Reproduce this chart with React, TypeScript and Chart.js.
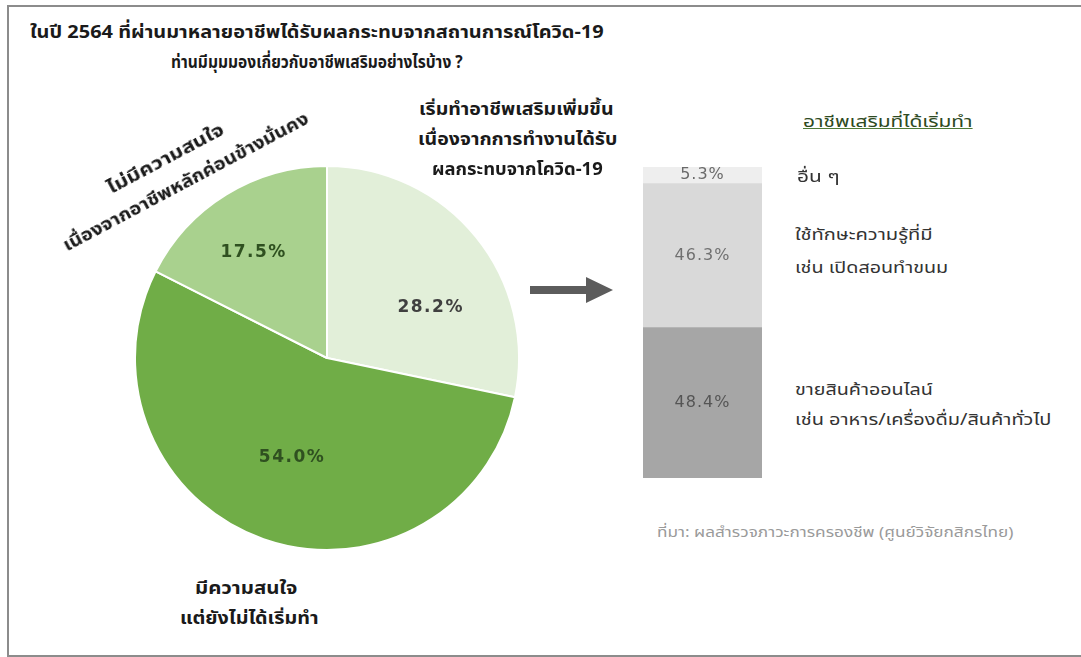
import React, { useEffect, useLayoutEffect, useRef } from "react";
import { Chart, registerables } from "chart.js";

Chart.register(...registerables);

const titleLines = [
  "ในปี 2564 ที่ผ่านมาหลายอาชีพได้รับผลกระทบจากสถานการณ์โควิด-19",
  "ท่านมีมุมมองเกี่ยวกับอาชีพเสริมอย่างไรบ้าง ?",
];

const pieLabels = [
  ["เริ่มทำอาชีพเสริมเพิ่มขึ้น", "เนื่องจากการทำงานได้รับ", "ผลกระทบจากโควิด-19"],
  ["มีความสนใจ", "แต่ยังไม่ได้เริ่มทำ"],
  ["ไม่มีความสนใจ", "เนื่องจากอาชีพหลักค่อนข้างมั่นคง"],
];
const pieValues = [28.2, 54.0, 17.5];
const pieColors = ["#e2efd9", "#70ad47", "#a9d18e"];
const pieTextColors = ["#404040", "#2f5020", "#2f5020"];

const barTitle = "อาชีพเสริมที่ได้เริ่มทำ";
const barLabels = [
  ["ขายสินค้าออนไลน์", "เช่น อาหาร/เครื่องดื่ม/สินค้าทั่วไป"],
  ["ใช้ทักษะความรู้ที่มี", "เช่น เปิดสอนทำขนม"],
  ["อื่น ๆ"],
];
const barValues = [48.4, 46.3, 5.3];
const barColors = ["#a6a6a6", "#d9d9d9", "#eeeeee"];
const barTextColors = ["#555555", "#707070", "#6a6a6a"];

const sourceText = "ที่มา: ผลสำรวจภาวะการครองชีพ (ศูนย์วิจัยกสิกรไทย)";

const FONT = 'Tahoma, "Noto Sans Thai", "Noto Sans", "DejaVu Sans", sans-serif';

// layout (not data): label placement inside slices [fraction of angle, fraction of radius]
const pieLabelPlace = [
  [0.63, 0.6],
  [0.5, 0.55],
  [0.45, 0.67],
];

const pieLabelPlugin = {
  id: "pieLabels",
  afterDatasetsDraw(chart: any) {
    const ctx = chart.ctx;
    const meta = chart.getDatasetMeta(0);
    ctx.save();
    ctx.font = `bold 17px "DejaVu Sans", sans-serif`;
    ctx.textAlign = "center";
    ctx.textBaseline = "middle";
    try { (ctx as any).letterSpacing = "1.5px"; } catch (e) {}
    meta.data.forEach((arc: any, i: number) => {
      const p = arc.getProps(["x", "y", "startAngle", "endAngle", "outerRadius"], true);
      const [fa, fr] = pieLabelPlace[i];
      const a = p.startAngle + fa * (p.endAngle - p.startAngle);
      const r = p.outerRadius * fr;
      ctx.fillStyle = pieTextColors[i];
      ctx.fillText(pieValues[i].toFixed(1) + "%", p.x + Math.cos(a) * r, p.y + Math.sin(a) * r);
    });
    ctx.restore();
  },
};

const barLabelPlugin = {
  id: "barLabels",
  afterDatasetsDraw(chart: any) {
    const ctx = chart.ctx;
    ctx.save();
    ctx.font = `16px "DejaVu Sans", sans-serif`;
    ctx.textAlign = "center";
    ctx.textBaseline = "middle";
    try { (ctx as any).letterSpacing = "1px"; } catch (e) {}
    chart.data.datasets.forEach((ds: any, i: number) => {
      const el = chart.getDatasetMeta(i).data[0];
      const p = el.getProps(["x", "y", "base"], true);
      ctx.fillStyle = barTextColors[i];
      ctx.fillText(ds.data[0].toFixed(1) + "%", p.x, (p.y + p.base) / 2);
    });
    ctx.restore();
  },
};

function PieChart() {
  const ref = useRef<HTMLCanvasElement>(null);
  useEffect(() => {
    const chart = new Chart(ref.current!, {
      type: "pie",
      data: {
        labels: pieLabels.map((l) => l.join(" ")),
        datasets: [
          {
            data: pieValues,
            backgroundColor: pieColors,
            borderColor: "#ffffff",
            borderWidth: 2,
            hoverOffset: 0,
            radius: 192,
          } as any,
        ],
      },
      options: {
        responsive: false,
        animation: false,
        events: [],
        layout: { padding: 0 },
        plugins: { legend: { display: false }, tooltip: { enabled: false } },
      },
      plugins: [pieLabelPlugin],
    });
    return () => chart.destroy();
  }, []);
  return (
    <canvas
      ref={ref}
      width={386}
      height={386}
      style={{ position: "absolute", left: 134, top: 165, width: 386, height: 386 }}
    />
  );
}

function BarChart() {
  const ref = useRef<HTMLCanvasElement>(null);
  useEffect(() => {
    const chart = new Chart(ref.current!, {
      type: "bar",
      data: {
        labels: [barTitle],
        datasets: barValues.map((v, i) => ({
          label: barLabels[i].join(" "),
          data: [v],
          backgroundColor: barColors[i],
          borderWidth: 0,
          barPercentage: 1,
          categoryPercentage: 1,
        })),
      },
      options: {
        responsive: false,
        animation: false,
        events: [],
        layout: { padding: 0 },
        scales: {
          x: { stacked: true, display: false },
          y: { stacked: true, display: false, min: 0, max: 100 },
        },
        plugins: { legend: { display: false }, tooltip: { enabled: false } },
      },
      plugins: [barLabelPlugin],
    });
    return () => chart.destroy();
  }, []);
  return (
    <canvas
      ref={ref}
      width={119}
      height={311}
      style={{ position: "absolute", left: 643, top: 167, width: 119, height: 311 }}
    />
  );
}

type FitProps = {
  x: number;
  cy: number;
  w: number;
  align?: "left" | "center";
  lh?: number;
  style?: React.CSSProperties;
  children: React.ReactNode;
};

function FitText({ x, cy, w, align = "left", lh = 30, style, children }: FitProps) {
  const ref = useRef<HTMLDivElement>(null);
  useLayoutEffect(() => {
    const el = ref.current!;
    el.style.transform = "none";
    const nat = el.offsetWidth || 1;
    el.style.transform = `scaleX(${w / nat})`;
  });
  const left = align === "center" ? x - w / 2 : x;
  return (
    <div
      ref={ref}
      style={{
        position: "absolute",
        left,
        top: cy - lh / 2,
        height: lh,
        lineHeight: lh + "px",
        whiteSpace: "nowrap",
        transformOrigin: "left center",
        ...style,
      }}
    >
      {children}
    </div>
  );
}

const bold: React.CSSProperties = { fontWeight: "bold", color: "#1a1a1a", fontSize: 17 };
const plain: React.CSSProperties = { fontSize: 16, color: "#333333" };

// layout of text lines: [x, centreY, width]
const barLabelLayout = [
  [[795, 390, 138], [795, 420, 257]],
  [[795, 235, 138], [795, 268, 153]],
  [[797, 177, 43]],
];
const pieLabelLayout = [
  [[516, 110, 195], [517, 140, 199], [517, 170, 171]],
  [[246, 589, 102], [249, 619, 138]],
  [[-3.5, -15, 129], [3.5, 15, 275]],
];

export default function App() {
  return (
    <div
      style={{
        position: "absolute",
        left: 0,
        top: 0,
        width: 1081,
        height: 657,
        background: "#ffffff",
        overflow: "hidden",
        fontFamily: FONT,
      }}
    >
      <div
        style={{
          position: "absolute",
          left: 7,
          top: 5,
          width: 1100,
          height: 648,
          borderLeft: "2px solid #8c8c8c",
          borderTop: "2px solid #8c8c8c",
          borderBottom: "2px solid #8c8c8c",
        }}
      />
      <FitText x={30} cy={33} w={574} style={{ ...bold, fontSize: 18 }}>
        {titleLines[0]}
      </FitText>
      <FitText x={317} cy={63} w={292} align="center" style={{ ...bold, fontSize: 17 }}>
        {titleLines[1]}
      </FitText>

      <PieChart />
      <BarChart />

      {/* pie labels */}
      {[0, 1].map((k) =>
        pieLabels[k].map((line, j) => {
          const [x, cy, w] = pieLabelLayout[k][j];
          return (
            <FitText key={k + "-" + j} x={x} cy={cy} w={w} align="center" style={bold}>
              {line}
            </FitText>
          );
        })
      )}
      <div
        style={{
          position: "absolute",
          left: 176,
          top: 170.5,
          width: 0,
          height: 0,
          transformOrigin: "0 0",
          transform: "rotate(-28deg)",
        }}
      >
        {pieLabels[2].map((line, j) => {
          const [x, cy, w] = pieLabelLayout[2][j];
          return (
            <FitText key={j} x={x} cy={cy} w={w} align="center" style={bold}>
              {line}
            </FitText>
          );
        })}
      </div>

      {/* arrow */}
      <svg style={{ position: "absolute", left: 528, top: 274 }} width={90} height={32}>
        <polygon points="2,12 58,12 58,3 85,16 58,29 58,20 2,20" fill="#5c5c5c" />
      </svg>

      {/* bar side labels */}
      <FitText
        x={803}
        cy={122}
        w={170}
        style={{
          ...plain,
          color: "#2e4a22",
          textDecoration: "underline",
          textDecorationColor: "#4f7a38",
        }}
      >
        {barTitle}
      </FitText>
      {barLabels.map((lines, i) =>
        lines.map((l, j) => {
          const [x, cy, w] = barLabelLayout[i][j];
          return (
            <FitText key={i + "-" + j} x={x} cy={cy} w={w} style={plain}>
              {l}
            </FitText>
          );
        })
      )}
      <FitText x={657} cy={533} w={356} style={{ fontSize: 14, color: "#9a9a9a" }}>
        {sourceText}
      </FitText>
    </div>
  );
}
